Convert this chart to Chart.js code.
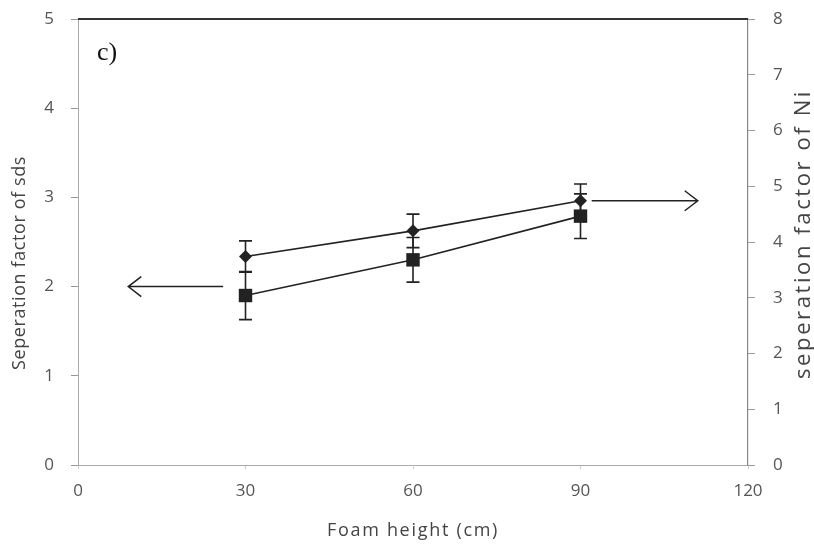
<!DOCTYPE html>
<html>
<head>
<meta charset="utf-8">
<script src="https://cdn.jsdelivr.net/npm/chart.js@4.4.0/dist/chart.umd.min.js"></script>
<style>
  html, body { margin: 0; padding: 0; background: #fff; }
  #wrap { width: 814px; height: 556px; position: relative; }
</style>
</head>
<body>
<div id="wrap"><canvas id="chart"></canvas></div>
<script>
// Foam height (cm) on the x axis
const foamHeight = [30, 60, 90];
// Separation factor of SDS (left axis) with error half-widths
const sdsFactor = [1.90, 2.30, 2.79];
const sdsError  = [0.27, 0.25, 0.25];
// Separation factor of Ni (right axis) with error half-widths
const niFactor = [3.74, 4.20, 4.74];
const niError  = [0.28, 0.30, 0.30];
// Tick labels
const xTickValues   = [0, 30, 60, 90, 120];
const sdsTickValues = [0, 1, 2, 3, 4, 5];
const niTickValues  = [0, 1, 2, 3, 4, 5, 6, 7, 8];

const TICK_FONT = { family: "'Open Sans', sans-serif", size: 17 };
const TICK_COLOR = '#555';
const INK = '#222';

// Arrows pointing each series to its own axis (in data units)
const arrows = [
  { axis: 'y',  y: 2.0,  from: 26, to: 9 },
  { axis: 'y1', y: 4.74, from: 92, to: 111 }
];

const toPoints = (xs, ys) => xs.map((x, i) => ({ x: x, y: ys[i] }));

// keep the wide label gap from inflating the plot's top/bottom margins
const trimVerticalPadding = (s) => { s.paddingTop = 10; s.paddingBottom = 10; };

const errorBarPlugin = {
  id: 'errorBars',
  beforeDatasetsDraw(chart) {
    const ctx = chart.ctx;
    const xs = chart.scales.x;
    chart.data.datasets.forEach((ds) => {
      const ys = chart.scales[ds.yAxisID];
      const err = ds.errorBars || [];
      ctx.save();
      ctx.strokeStyle = INK;
      ctx.lineWidth = 1.6;
      ds.data.forEach((p, i) => {
        const e = err[i];
        if (e == null) return;
        const px = xs.getPixelForValue(p.x);
        const top = ys.getPixelForValue(p.y + e);
        const bot = ys.getPixelForValue(p.y - e);
        const cap = 6.5;
        ctx.beginPath();
        ctx.moveTo(px, top); ctx.lineTo(px, bot);
        ctx.moveTo(px - cap, top); ctx.lineTo(px + cap, top);
        ctx.moveTo(px - cap, bot); ctx.lineTo(px + cap, bot);
        ctx.stroke();
      });
      ctx.restore();
    });
  }
};

const decorPlugin = {
  id: 'decor',
  afterDraw(chart) {
    const ctx = chart.ctx;
    const area = chart.chartArea;
    const xs = chart.scales.x;
    ctx.save();

    // dark frame line along the top of the plot
    ctx.strokeStyle = '#333';
    ctx.lineWidth = 2;
    ctx.beginPath();
    ctx.moveTo(area.left, area.top);
    ctx.lineTo(area.right, area.top);
    ctx.stroke();

    // arrows
    ctx.strokeStyle = INK;
    ctx.lineWidth = 1.5;
    arrows.forEach((a) => {
      const y = chart.scales[a.axis].getPixelForValue(a.y);
      const x0 = xs.getPixelForValue(a.from);
      const x1 = xs.getPixelForValue(a.to);
      const dir = x1 > x0 ? 1 : -1;
      ctx.beginPath();
      ctx.moveTo(x0, y); ctx.lineTo(x1, y);
      ctx.moveTo(x1 - dir * 13, y - 10); ctx.lineTo(x1, y); ctx.lineTo(x1 - dir * 13, y + 10);
      ctx.stroke();
    });

    // panel label
    ctx.fillStyle = '#111';
    ctx.font = "26px 'Liberation Serif', serif";
    ctx.textAlign = 'left';
    ctx.textBaseline = 'middle';
    ctx.fillText('c)', 97, 53);

    // axis titles
    ctx.fillStyle = '#444';
    ctx.textAlign = 'center';
    ctx.font = "18px 'Open Sans', sans-serif";
    ctx.letterSpacing = '1.7px';
    ctx.fillText('Foam height (cm)', (area.left + area.right) / 2, 531);

    ctx.letterSpacing = '0.6px';
    ctx.save();
    ctx.translate(20, 263);
    ctx.rotate(-Math.PI / 2);
    ctx.fillText('Seperation factor of sds', 0, 0);
    ctx.restore();

    ctx.save();
    ctx.translate(804, 234);
    ctx.rotate(-Math.PI / 2);
    ctx.font = "22px 'Open Sans', sans-serif";
    ctx.letterSpacing = '2.6px';
    ctx.fillText('seperation factor of Ni', 0, 0);
    ctx.restore();

    ctx.restore();
  }
};

new Chart(document.getElementById('chart'), {
  type: 'line',
  data: {
    datasets: [
      {
        label: 'Ni',
        data: toPoints(foamHeight, niFactor),
        errorBars: niError,
        yAxisID: 'y1',
        borderColor: INK,
        borderWidth: 1.6,
        backgroundColor: INK,
        pointStyle: 'rectRot',
        pointRadius: 6.5,
        pointBorderWidth: 0,
        pointBackgroundColor: INK,
        tension: 0
      },
      {
        label: 'sds',
        data: toPoints(foamHeight, sdsFactor),
        errorBars: sdsError,
        yAxisID: 'y',
        borderColor: INK,
        borderWidth: 1.6,
        backgroundColor: INK,
        pointStyle: 'rect',
        pointRadius: 9.5,
        pointBorderWidth: 0,
        pointBackgroundColor: INK,
        tension: 0
      }
    ]
  },
  options: {
    responsive: true,
    maintainAspectRatio: false,
    animation: false,
    events: [],
    layout: { padding: { top: 19, left: 0, right: 0, bottom: 0 } },
    plugins: { legend: { display: false }, tooltip: { enabled: false } },
    scales: {
      x: {
        type: 'linear',
        min: 0, max: 120,
        afterBuildTicks: (s) => { s.ticks = xTickValues.map(v => ({ value: v })); },
        afterFit: (s) => { s.height = 556 - 465; },
        grid: { drawOnChartArea: false, tickLength: 4, color: '#ccc' },
        border: { color: '#aaa', width: 1, dash: [3, 1] },
        ticks: { font: TICK_FONT, color: TICK_COLOR, padding: 12, maxRotation: 0 }
      },
      y: {
        position: 'left',
        min: 0, max: 5,
        afterBuildTicks: (s) => { s.ticks = sdsTickValues.map(v => ({ value: v })); },
        afterFit: (s) => { s.width = 78; trimVerticalPadding(s); },
        grid: { drawOnChartArea: false, tickLength: 7, color: '#999' },
        border: { color: '#aaa', width: 1, dash: [3, 1] },
        ticks: { font: TICK_FONT, color: TICK_COLOR, padding: 17 }
      },
      y1: {
        position: 'right',
        min: 0, max: 8,
        afterBuildTicks: (s) => { s.ticks = niTickValues.map(v => ({ value: v })); },
        afterFit: (s) => { s.width = 814 - 748; trimVerticalPadding(s); },
        grid: { drawOnChartArea: false, tickLength: 7, color: '#999' },
        border: { color: '#888', width: 1.2 },
        ticks: { font: TICK_FONT, color: TICK_COLOR, padding: 18 }
      }
    }
  },
  plugins: [errorBarPlugin, decorPlugin]
});
</script>
</body>
</html>
